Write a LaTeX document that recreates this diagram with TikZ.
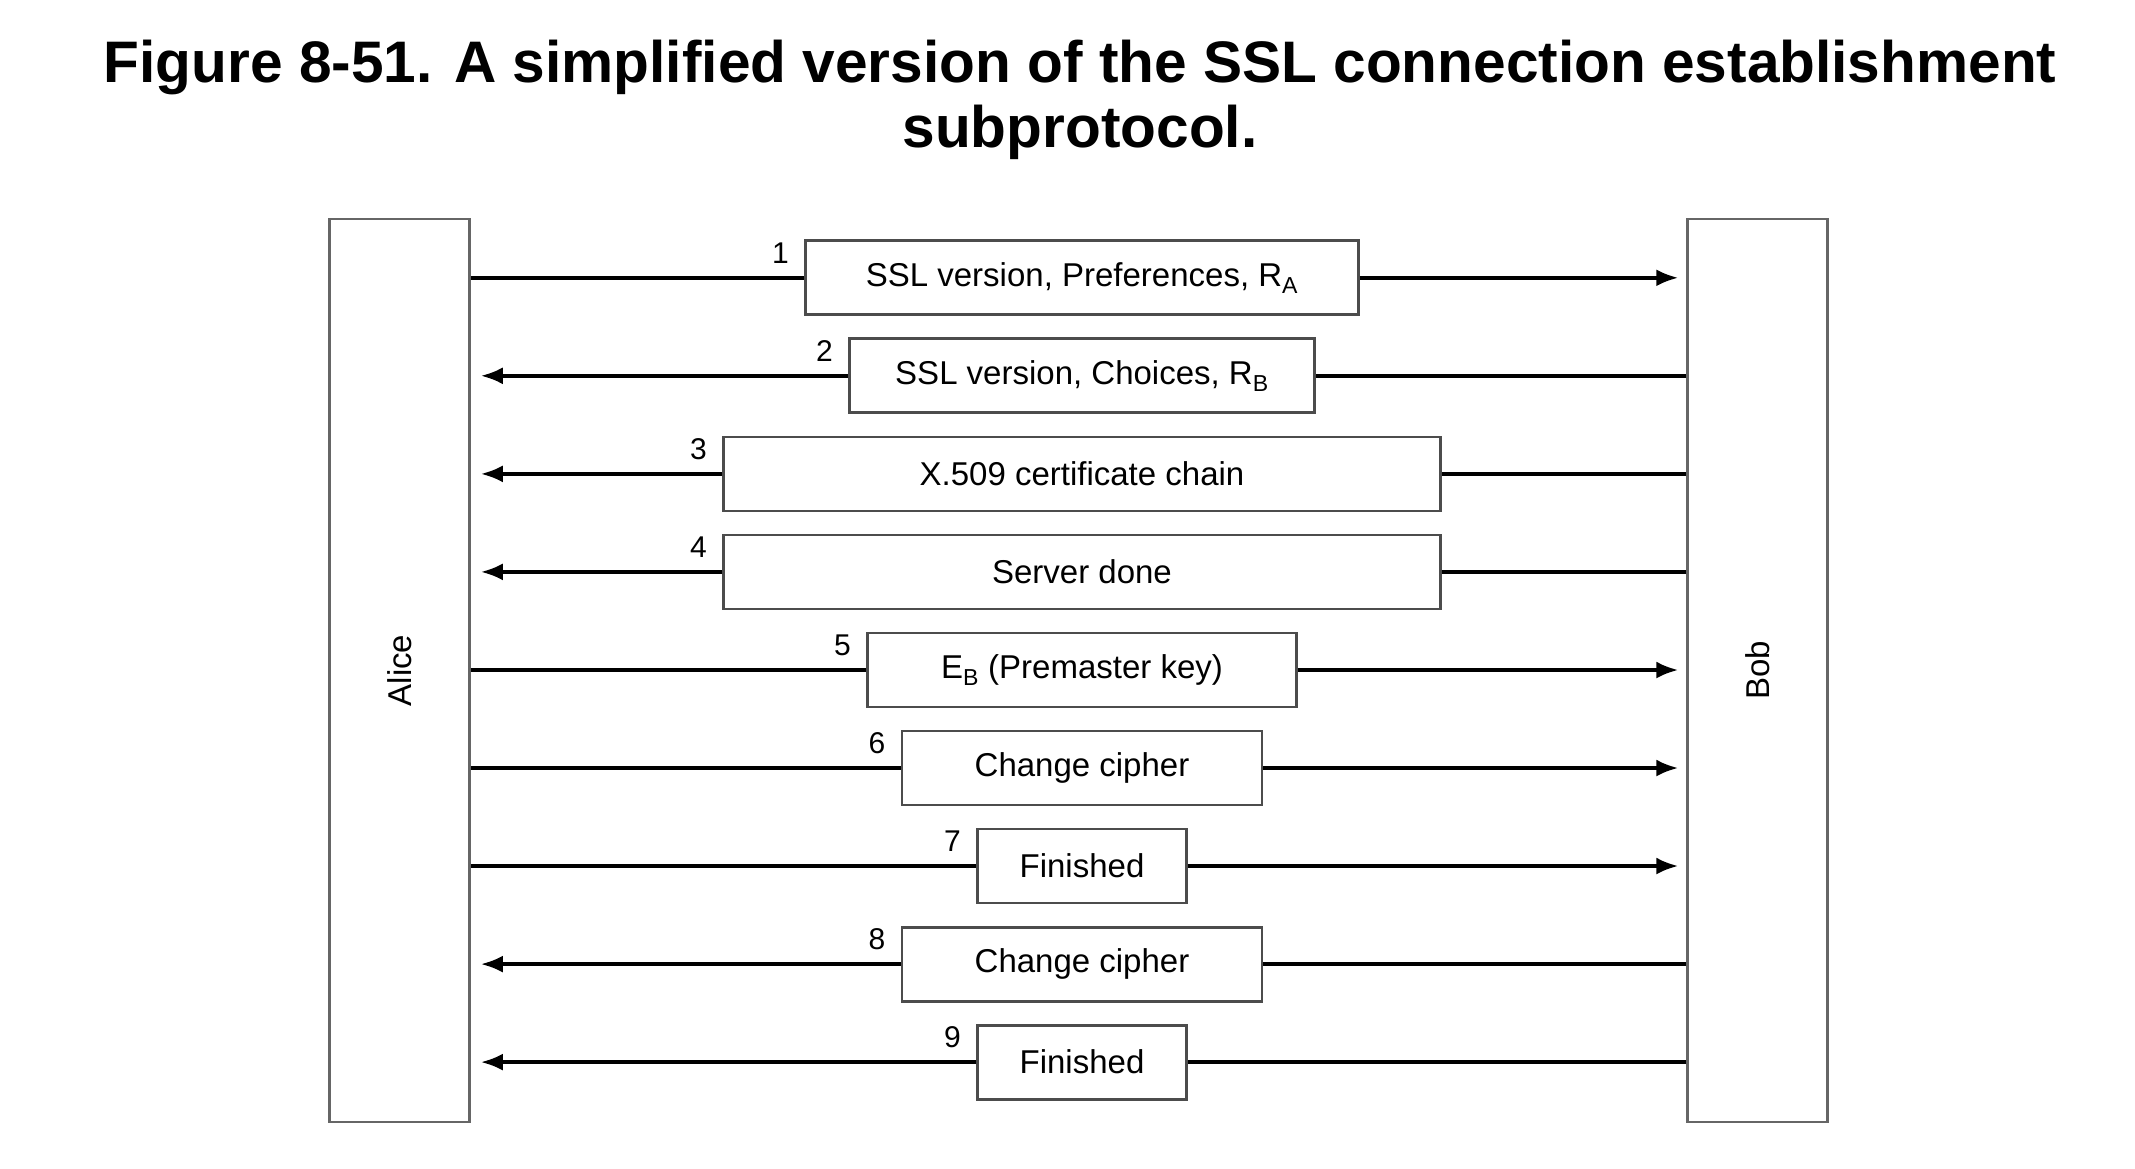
\documentclass[tikz,border=0pt]{standalone}
\usepackage{fontspec}
\setmainfont{Liberation Sans}
\usetikzlibrary{arrows.meta,calc}
\begin{document}
\begin{tikzpicture}[x=1pt,y=1pt,
 msg/.style={draw=black!70, line width=2.8pt, minimum height=74pt, inner sep=0pt, font=\fontsize{33}{36}\selectfont},
 party/.style={draw=black!60, line width=2.4pt, minimum width=140pt, minimum height=903pt, inner sep=0pt},
 num/.style={anchor=south east, inner sep=0pt, font=\fontsize{30}{31}\selectfont},
 wire/.style={line width=3.6pt, black},
 tip/.style={-{Latex[length=22pt,width=17pt]}},
 ttl/.style={anchor=base, inner sep=0pt, font=\fontsize{58.6}{65}\selectfont\bfseries}
]
\useasboundingbox (0,0) rectangle (2135,-1168);
\node[ttl] (t1) at (1080,-82) {Figure 8-51. A simplified version of the SSL connection establishment};
\node[ttl] (t2) at (1080,-147) {subprotocol.};

\node[party] (A) at (399.6,-670.5) {};
\node[party] (B) at (1757.5,-670.5) {};
\node[rotate=90, font=\fontsize{33}{36}\selectfont] (alab) at (A.center) {Alice};
\node[rotate=90, font=\fontsize{33}{36}\selectfont] (blab) at (B.center) {Bob};

\node[msg, minimum width=553pt] (b1) at (1082,-277.8) {SSL version, Preferences, R\textsubscript{A}};
\node[msg, minimum width=465pt] (b2) at (1082,-375.8) {SSL version, Choices, R\textsubscript{B}};
\node[msg, minimum width=717pt] (b3) at (1082,-473.9) {X.509 certificate chain};
\node[msg, minimum width=717pt] (b4) at (1082,-571.9) {Server done};
\node[msg, minimum width=429pt] (b5) at (1082,-670.0) {E\textsubscript{B} (Premaster key)};
\node[msg, minimum width=360pt] (b6) at (1082,-768.0) {Change cipher};
\node[msg, minimum width=209pt] (b7) at (1082,-866.0) {Finished};
\node[msg, minimum width=360pt] (b8) at (1082,-964.1) {Change cipher};
\node[msg, minimum width=209pt] (b9) at (1082,-1062.1) {Finished};

\foreach \i in {1,...,9} {
  \node[num] (n\i) at ($(b\i.west)+(-15,14)$) {\i};
}

% right-going messages
\foreach \i in {1,5,6,7} {
  \draw[wire] (A.east |- b\i.west) -- (b\i.west);
  \draw[wire,tip] (b\i.east) -- ($(B.west |- b\i.east)+(-8,0)$);
}
% left-going messages
\foreach \i in {2,3,4,8,9} {
  \draw[wire] (B.west |- b\i.east) -- (b\i.east);
  \draw[wire,tip] (b\i.west) -- ($(A.east |- b\i.west)+(10,0)$);
}
\end{tikzpicture}
\end{document}
